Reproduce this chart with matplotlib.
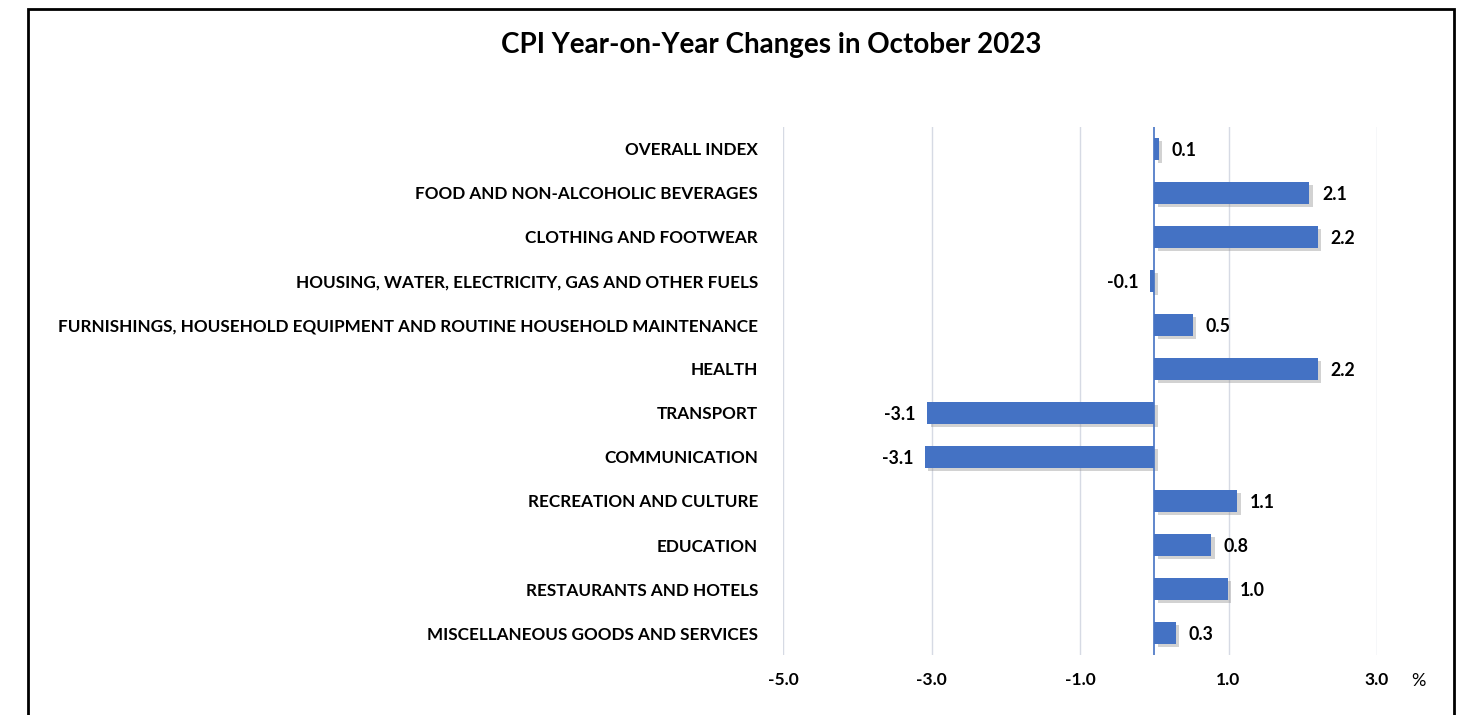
import matplotlib.pyplot as plt
import matplotlib.patheffects as pe
from matplotlib.patches import Rectangle

# CPI categories and year-on-year change (%)
categories = [
    "OVERALL INDEX",
    "FOOD AND NON-ALCOHOLIC BEVERAGES",
    "CLOTHING AND FOOTWEAR",
    "HOUSING, WATER, ELECTRICITY, GAS AND OTHER FUELS",
    "FURNISHINGS, HOUSEHOLD EQUIPMENT AND ROUTINE HOUSEHOLD MAINTENANCE",
    "HEALTH",
    "TRANSPORT",
    "COMMUNICATION",
    "RECREATION AND CULTURE",
    "EDUCATION",
    "RESTAURANTS AND HOTELS",
    "MISCELLANEOUS GOODS AND SERVICES",
]
yoy_change = [0.06, 2.09, 2.2, -0.06, 0.52, 2.2, -3.06, -3.09, 1.12, 0.77, 0.99, 0.29]
x_ticks = [-5, -3, -1, 1, 3]

BLUE = "#4472C4"
plt.rcParams['font.family'] = ['Lato', 'DejaVu Sans']

fig = plt.figure(figsize=(14.57, 7.15), dpi=100)
ax = fig.add_axes([783 / 1457, 1 - 655 / 715, (1377 - 783) / 1457, (655 - 127) / 715])

ypos = list(range(len(categories)))
bars = ax.barh(ypos, yoy_change, height=0.5, color=BLUE, zorder=3)
for b in bars:
    b.set_path_effects([pe.SimplePatchShadow(offset=(2.5, -2.5), shadow_rgbFace='#909090', alpha=0.4),
                        pe.Normal()])

# value labels
for y, v in zip(ypos, yoy_change):
    if v >= 0:
        ax.annotate(f"{v:.1f}", (v, y), xytext=(9, -1), textcoords='offset points',
                    ha='left', va='center', fontsize=12.8, fontweight='bold')
    else:
        ax.annotate(f"{v:.1f}", (v, y), xytext=(-8, -1), textcoords='offset points',
                    ha='right', va='center', fontsize=12.8, fontweight='bold')

ax.set_xlim(-5, 3)
ax.set_ylim(len(categories) - 0.5, -0.5)
ax.set_xticks(x_ticks)
ax.set_xticklabels([f"{t:.1f}" for t in x_ticks], fontsize=12.5, fontweight='bold')
ax.set_yticks(ypos)
ax.set_yticklabels(categories, fontsize=12.3, fontweight='bold')
ax.tick_params(axis='both', length=0)
ax.tick_params(axis='y', pad=18)
ax.tick_params(axis='x', pad=12)

ax.grid(axis='x', color='#D6DAE4', linewidth=1, zorder=0)
ax.axvline(0, color=BLUE, linewidth=1.2, zorder=4)
for s in ax.spines.values():
    s.set_visible(False)

ax.text(1418 / 1457, 1 - 681 / 715, "%", transform=fig.transFigure,
        ha='center', va='center', fontsize=13)

fig.text(771 / 1457, 1 - 45 / 715, "CPI Year-on-Year Changes in October 2023",
         ha='center', va='center', fontsize=20, fontweight='bold')

# outer border
fig.patches.append(Rectangle((28 / 1457, -0.05), (1454 - 28) / 1457, 1.05 - 9 / 715,
                             transform=fig.transFigure, fill=False,
                             edgecolor='black', linewidth=2))

fig.savefig("out.png", dpi=100, facecolor='white')
